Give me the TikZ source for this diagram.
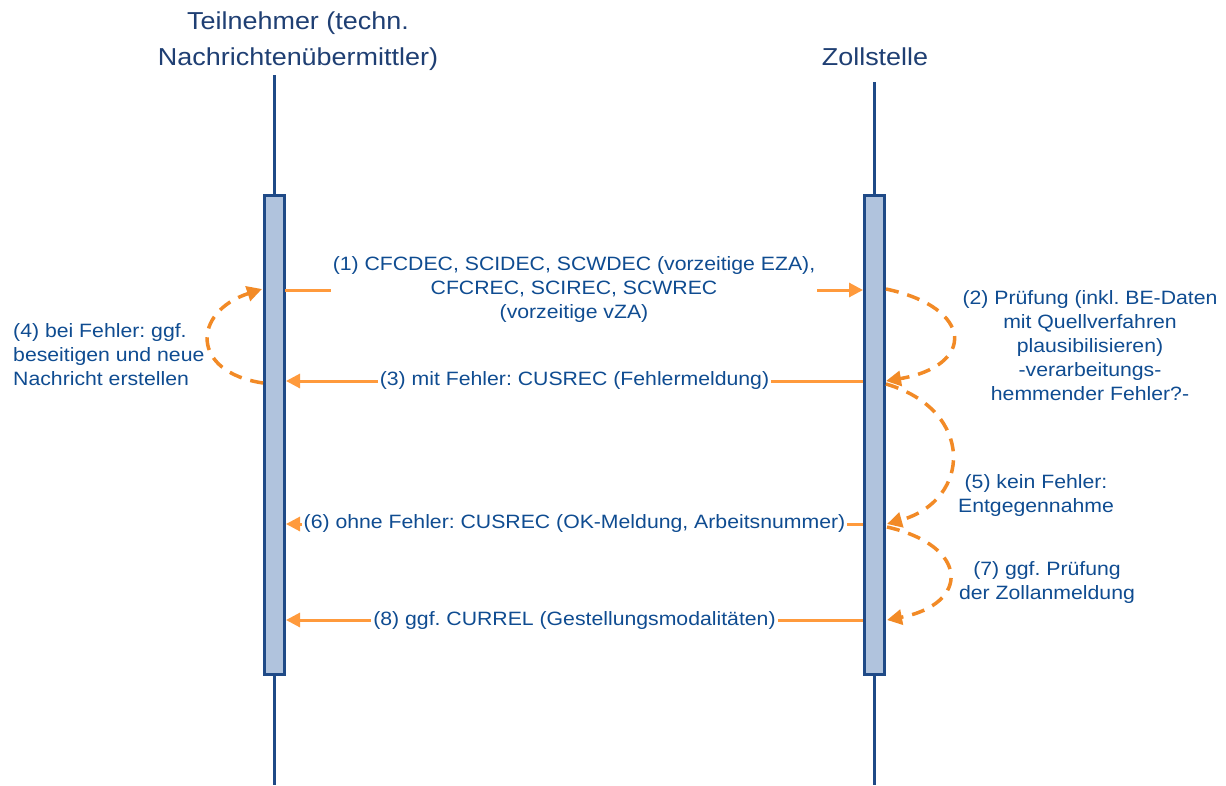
\documentclass[tikz,border=0pt]{standalone}
\usepackage{fontspec}
\setmainfont[FakeStretch=1.1]{Liberation Sans}
\usetikzlibrary{arrows.meta}
\definecolor{hdrblue}{HTML}{1F3F73}
\definecolor{lblblue}{HTML}{0F4C91}
\definecolor{barfill}{HTML}{B0C3DD}
\definecolor{barline}{HTML}{1F4A87}
\definecolor{msgorange}{HTML}{FF9A3C}
\definecolor{dashorange}{HTML}{F28A26}
\tikzset{
  hdr/.style={text=hdrblue, font=\fontsize{24.5}{36}\selectfont, align=center, inner sep=0pt},
  lbl/.style={text=lblblue, font=\fontsize{19.3}{24}\selectfont, inner sep=2pt},
  lifeline/.style={draw=barline, line width=3pt},
  actbar/.style={draw=barline, fill=barfill, line width=3pt, minimum width=20pt, minimum height=479pt, inner sep=0pt},
  msg/.style={draw=msgorange, line width=3pt, -{Triangle[length=14pt,width=14pt]}},
  selfmsg/.style={draw=dashorange, line width=3.5pt, dash pattern=on 13pt off 9pt, -{Triangle[length=15pt,width=15pt]}},
}
\begin{document}
\frenchspacing
\begin{tikzpicture}[x=1pt,y=-1pt]
\useasboundingbox[fill=white] (0,0) rectangle (1226,785);
% headers
\node[hdr] (hL) at (298,41) {Teilnehmer (techn.\\Nachrichtenübermittler)};
\node[hdr] (hR) at (875,57) {Zollstelle};
% lifelines
\coordinate (lLtop) at (274,75);
\coordinate (lLbot) at (274,785);
\coordinate (lRtop) at (874,82);
\coordinate (lRbot) at (874,785);
\draw[lifeline] (lLtop) -- (lLbot);
\draw[lifeline] (lRtop) -- (lRbot);
% activation bars
\node[actbar] (Lbar) at (274,434.5) {};
\node[actbar] (Rbar) at (874,434.5) {};
% anchor points
\coordinate (L1) at (285,290);
\coordinate (R1) at (863,290);
\coordinate (R3) at (863,381);
\coordinate (L3) at (286,381);
\coordinate (R6) at (863,524);
\coordinate (L6) at (286,524);
\coordinate (R8) at (863,620);
\coordinate (L8) at (286,620);
\coordinate (Lw3) at (263,383);
\coordinate (Lw1) at (262,289);
\coordinate (Re1) at (886,289);
\coordinate (Re3) at (886,381);
\coordinate (Re3b) at (886,384);
\coordinate (Re6) at (887,524);
\coordinate (Re6b) at (887,527);
\coordinate (Re8) at (887,620);
% messages
\draw[msg] (L1) -- node[lbl, fill=white, align=center] (m1) {(1) CFCDEC, SCIDEC, SCWDEC (vorzeitige EZA),\\CFCREC, SCIREC, SCWREC\\(vorzeitige vZA)} (R1);
\draw[msg] (R3) -- node[lbl, fill=white] (m3) {(3) mit Fehler: CUSREC (Fehlermeldung)} (L3);
\draw[msg] (R6) -- node[lbl, fill=white] (m6) {(6) ohne Fehler: CUSREC (OK-Meldung, Arbeitsnummer)} (L6);
\draw[msg] (R8) -- node[lbl, fill=white] (m8) {(8) ggf. CURREL (Gestellungsmodalitäten)} (L8);
% self messages
\draw[selfmsg] (Lw3) .. controls (190,372) and (192,312) .. (Lw1);
\draw[selfmsg] (Re1) .. controls (975,308) and (975,366) .. (Re3);
\draw[selfmsg] (Re3b) .. controls (975,410) and (972,500) .. (Re6);
\draw[selfmsg] (Re6b) .. controls (970,546) and (970,604) .. (Re8);
% self message labels
\node[lbl, align=left, anchor=west] (m4) at (11,355) {(4) bei Fehler: ggf.\\beseitigen und neue\\Nachricht erstellen};
\node[lbl, align=center] (m2) at (1090,346) {(2) Prüfung (inkl. BE-Daten\\mit Quellverfahren\\plausibilisieren)\\-verarbeitungs-\\hemmender Fehler?-};
\node[lbl, align=center] (m5) at (1036,496) {(5) kein Fehler:\\Entgegennahme};
\node[lbl, align=center] (m7) at (1047,582) {(7) ggf. Prüfung\\der Zollanmeldung};
\end{tikzpicture}
\end{document}
